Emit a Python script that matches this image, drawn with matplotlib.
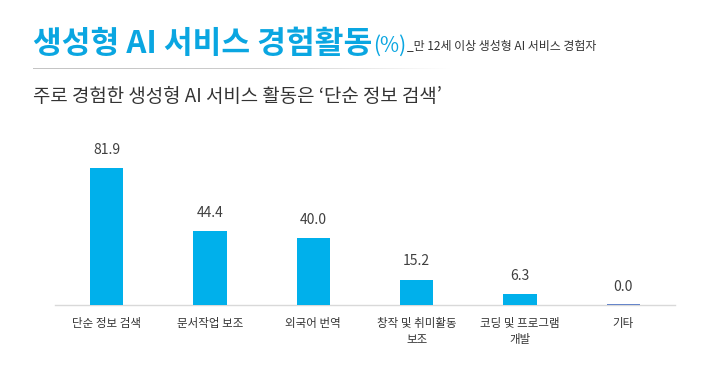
import matplotlib
matplotlib.use("Agg")
import matplotlib.pyplot as plt
import numpy as np
from matplotlib.colors import LinearSegmentedColormap

plt.rcParams['font.family'] = ['Noto Sans CJK KR', 'DejaVu Sans']

categories = ['단순 정보 검색', '문서작업 보조', '외국어 번역', '창작 및 취미활동\n보조', '코딩 및 프로그램\n개발', '기타']
values = [81.9, 44.4, 40.0, 15.2, 6.3, 0.0]
value_labels = ['81.9', '44.4', '40.0', '15.2', '6.3', '0.0']

W, H = 710, 371
fig = plt.figure(figsize=(W / 100, H / 100), dpi=100)

def fx(px):
    return px / W

def fy(py):
    return 1 - py / H

base_y = 305
scale = 1.673
top_y = base_y - 100 * scale
ax = fig.add_axes([fx(55), fy(base_y), fx(675) - fx(55), fy(top_y) - fy(base_y)])

x = np.arange(len(categories))
bar_color = '#00b0eb'
colors = [bar_color if v > 0 else '#4a6fc2' for v in values]
bars = ax.bar(x, values, width=0.32, color=colors, zorder=3)
for b, v in zip(bars, values):
    if v == 0:
        b.set_edgecolor('#4a6fc2')
        b.set_linewidth(1.2)

for xi, v, lab in zip(x, values, value_labels):
    ax.annotate(lab, (xi, v), xytext=(0, 8), textcoords='offset points',
                ha='center', va='bottom', fontsize=10, color='#404040')

ax.set_xlim(-0.5, len(categories) - 0.5)
ax.set_ylim(0, 100)
ax.set_xticks(x)
ax.set_xticklabels(categories, fontsize=8.3, color='#333333', linespacing=1.25)
ax.tick_params(axis='x', length=0, pad=9)
ax.set_yticks([])
for s in ['top', 'right', 'left']:
    ax.spines[s].set_visible(False)
ax.spines['bottom'].set_color('#d9d9d9')
ax.spines['bottom'].set_linewidth(1)
ax.patch.set_alpha(0)

# Title
title_color = '#0aa6e1'
t = fig.text(fx(33), fy(44), '생성형 AI 서비스 경험활동', fontsize=22.5, fontweight='heavy',
             color=title_color, ha='left', va='center')
fig.canvas.draw()
r = fig.canvas.get_renderer()
bb = t.get_window_extent(r)
t2 = fig.text(bb.x1 / W + fx(1), fy(46), '(%)', fontsize=15, color=title_color,
              ha='left', va='center')
bb2 = t2.get_window_extent(r)
fig.text(bb2.x1 / W + fx(1), fy(47), '_만 12세 이상 생성형 AI 서비스 경험자', fontsize=8.6,
         color='#333333', ha='left', va='center')

# gradient separator line
lax = fig.add_axes([fx(33), fy(69.5), fx(450) - fx(33), fy(67.5) - fy(69.5)])
grad = np.linspace(0, 1, 256)[None, :]
cmap = LinearSegmentedColormap.from_list('g', [(0, '#c4c4c4'), (0.55, '#cdcdcd'), (1, '#ffffff')])
lax.imshow(grad, aspect='auto', cmap=cmap, extent=[0, 1, 0, 1])
lax.axis('off')

fig.text(fx(33), fy(97), "주로 경험한 생성형 AI 서비스 활동은 ‘단순 정보 검색’", fontsize=13.6,
         color='#333333', ha='left', va='center')

fig.savefig('out.png', dpi=100)
